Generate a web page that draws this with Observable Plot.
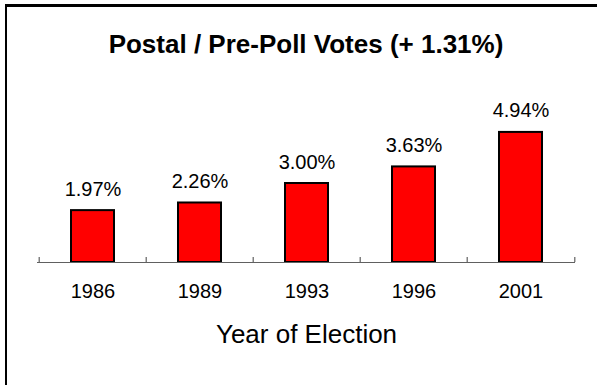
<!DOCTYPE html>
<html>
<head>
<meta charset="utf-8">
<script src="https://cdn.jsdelivr.net/npm/d3@7"></script>
<script src="https://cdn.jsdelivr.net/npm/@observablehq/plot@0.6"></script>
<style>
  html, body { margin: 0; padding: 0; background: #fff; }
  #wrap { position: relative; width: 597px; height: 385px; overflow: hidden; font-family: "Liberation Sans", Arial, sans-serif; }
  #frame { position: absolute; left: 5px; top: 4px; width: 620px; height: 420px; border-left: 2px solid #000; border-top: 3px solid #000; }
  #title { position: absolute; left: 0; width: 612px; top: 32px; text-align: center; font-weight: bold; font-size: 26px; line-height: 25px; color: #000; }
  #chart { position: absolute; left: 0; top: 0; }
</style>
</head>
<body>
<div id="wrap">
  <div id="frame"></div>
  <div id="chart"></div>
  <div id="title">Postal / Pre-Poll Votes (+ 1.31%)</div>
</div>
<script>
const years = ["1986", "1989", "1993", "1996", "2001"];
const shares = [1.97, 2.26, 3.00, 3.63, 4.94];
const xTitle = "Year of Election";

const data = years.map((y, i) => ({year: y, share: shares[i]}));

const W = 597, H = 385;
const mL = 37, mR = 22, mT = 104, mB = 123;
const step = (W - mL - mR) / years.length;

const plot = Plot.plot({
  width: W,
  height: H,
  marginLeft: mL,
  marginRight: mR,
  marginTop: mT,
  marginBottom: mB,
  style: {fontFamily: "'Liberation Sans', Arial, sans-serif", color: "#000", background: "transparent", overflow: "visible"},
  x: {type: "band", domain: years, paddingInner: 0.6, paddingOuter: 0.3, align: 0.5},
  y: {domain: [0, 6], axis: null},
  marks: [
    Plot.barY(data, {x: "year", y: "share", fill: "#ff0000", stroke: "#000", strokeWidth: 2}),
    Plot.ruleY([0], {stroke: "#606060", strokeWidth: 1.2}),
    Plot.ruleX(years, {x: d => d, y1: 0, y2: 0, insetTop: -5, dx: -step / 2, stroke: "#606060", strokeWidth: 1.2}),
    Plot.ruleX([years[years.length - 1]], {x: d => d, y1: 0, y2: 0, insetTop: -5, dx: step / 2, stroke: "#606060", strokeWidth: 1.2}),
    Plot.text(data, {x: "year", y: "share", text: d => d.share.toFixed(2) + "%", lineAnchor: "bottom", dy: -15, fontSize: 20, fill: "#000"}),
    Plot.axisX({tickSize: 0, tickPadding: 21, fontSize: 20, label: xTitle, labelAnchor: "center", labelOffset: 80, labelArrow: "none"})
  ]
});
plot.querySelectorAll("[aria-label='x-axis label'] text, [aria-label='x-axis label']").forEach(el => el.setAttribute("font-size", 26));
document.getElementById("chart").appendChild(plot);
</script>
</body>
</html>
